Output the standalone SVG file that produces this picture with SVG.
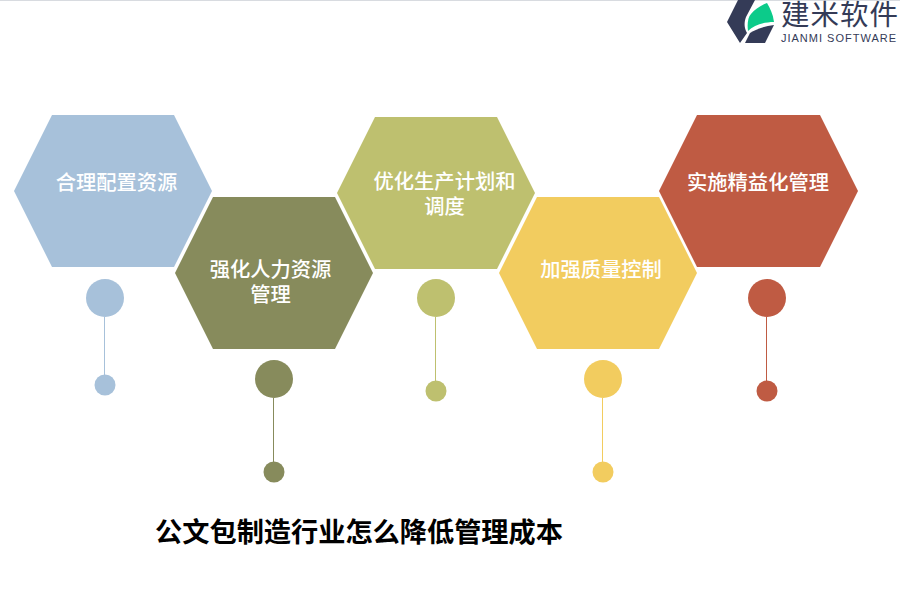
<svg xmlns="http://www.w3.org/2000/svg" width="900" height="600" viewBox="0 0 900 600">
<style>
text{font-family:"Liberation Sans","Noto Sans CJK SC",sans-serif;text-anchor:middle}
.t{font-size:20.300px;fill:#fff;font-weight:500}
.ln{stroke-width:1;fill:none}
</style>
<rect width="900" height="600" fill="#fff"/>
<rect width="900" height="1" fill="#d8dbe0"/>
<g id="connectors">
<line class="ln" x1="104.500" y1="317" x2="104.500" y2="376" stroke="#a7c1da"/>
<line class="ln" x1="273.500" y1="398" x2="273.500" y2="462" stroke="#878b5c"/>
<line class="ln" x1="435.500" y1="317" x2="435.500" y2="381" stroke="#bec06f"/>
<line class="ln" x1="602.500" y1="398" x2="602.500" y2="462" stroke="#f2cc5f"/>
<line class="ln" x1="766.500" y1="317" x2="766.500" y2="381" stroke="#bf5b43"/>
</g>
<g id="node1">
<polygon points="52,115 174,115 212,191 174,267 52,267 14,191" fill="#a7c1da"/>
<text class="t" x="116.500" y="189.500">合理配置资源</text>
<circle cx="105" cy="298" r="19" fill="#a7c1da"/>
<circle cx="105" cy="385" r="10.500" fill="#a7c1da"/>
</g>
<g id="node2">
<polygon points="213,197 335,197 373,273 335,349 213,349 175,273" fill="#878b5c"/>
<text class="t" x="270.500" y="276.500">强化人力资源</text>
<text class="t" x="270.500" y="301.500">管理</text>
<circle cx="274" cy="379" r="19" fill="#878b5c"/>
<circle cx="274" cy="472" r="10.500" fill="#878b5c"/>
</g>
<g id="node3">
<polygon points="375,117 497,117 535,193 497,269 375,269 337,193" fill="#bec06f"/>
<text class="t" x="444.500" y="188.500">优化生产计划和</text>
<text class="t" x="444.500" y="213.500">调度</text>
<circle cx="436" cy="298" r="19" fill="#bec06f"/>
<circle cx="436" cy="391" r="10.500" fill="#bec06f"/>
</g>
<g id="node4">
<polygon points="537,197 659,197 697,273 659,349 537,349 499,273" fill="#f2cc5f"/>
<text class="t" x="601" y="276.500">加强质量控制</text>
<circle cx="603" cy="379" r="19" fill="#f2cc5f"/>
<circle cx="603" cy="472" r="10.500" fill="#f2cc5f"/>
</g>
<g id="node5">
<polygon points="697,115 820,115 858,191 820,267 697,267 659,191" fill="#bf5b43"/>
<text class="t" x="758" y="189.500">实施精益化管理</text>
<circle cx="767" cy="298" r="19" fill="#bf5b43"/>
<circle cx="767" cy="391" r="10.500" fill="#bf5b43"/>
</g>
<g id="title">
<text x="359" y="542" font-size="27.200" font-weight="700" fill="#000">公文包制造行业怎么降低管理成本</text>
</g>
<g id="logo">
<path d="M738,0 L755,0 L746,17 C744,22 744,28 747,33 L740,43 L727,22 Z" fill="#343b57"/>
<path d="M767,3 C770,8 773,14 774,22 C764,22 754,25 748,31 C747,24 748,17 751,14 C755,9 761,5 767,3 Z" fill="#0ccb8a"/>
<path d="M774,25 L765,43 L745,43 L750,33 C756,29 765,26 774,25 Z" fill="#343b57"/>
<text x="840" y="25" font-size="28.500" fill="#343b57" letter-spacing="1">建米软件</text>
<text x="839" y="42" font-size="11" fill="#343b57" letter-spacing="1">JIANMI SOFTWARE</text>
</g>
</svg>
